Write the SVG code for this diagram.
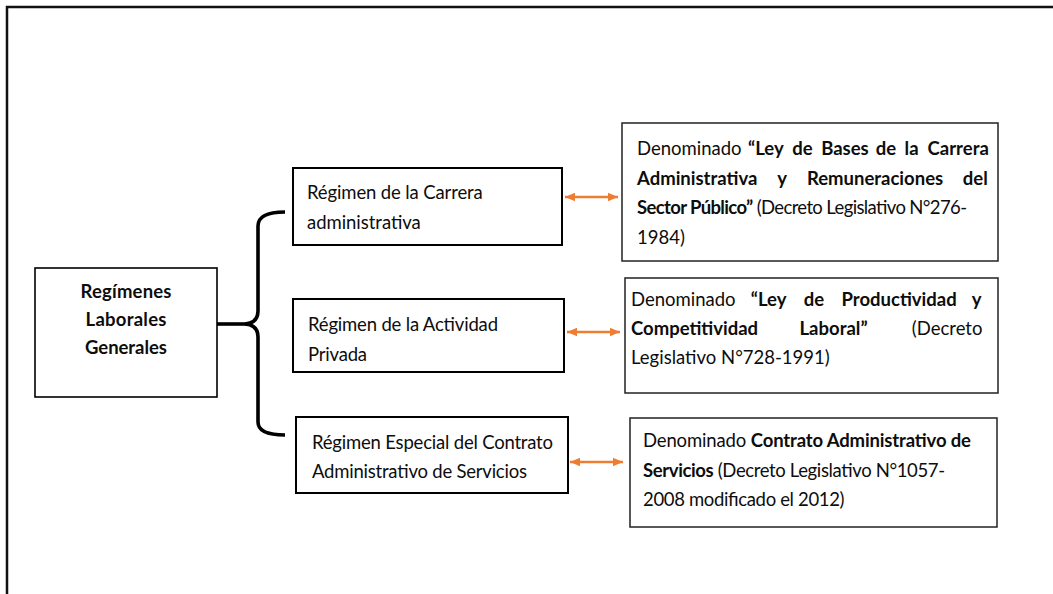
<svg xmlns="http://www.w3.org/2000/svg" width="1053" height="594" viewBox="0 0 1053 594">
<style>
.t{font-family:Lato,"Liberation Sans",sans-serif;font-size:18.5px;fill:#0d0d0d}
.b{font-weight:bold}
.lbox{fill:#fff;stroke:#000;stroke-width:2}
.rbox{fill:#fff;stroke:#222;stroke-width:1.5}
.arr{stroke:#ED7D31;stroke-width:2.4;fill:none;marker-start:url(#ah);marker-end:url(#ah)}
.brace{fill:none;stroke:#000;stroke-width:3.6;stroke-linecap:butt}
</style>
<defs>
<marker id="ah" markerUnits="userSpaceOnUse" markerWidth="11" markerHeight="10" refX="10" refY="5" orient="auto-start-reverse">
<path d="M0,0.8 L10,5 L0,9.2 z" fill="#ED7D31"/>
</marker>
</defs>
<rect width="1053" height="594" fill="#fff"/>
<path d="M7,594 V7 H1053" fill="none" stroke="#111" stroke-width="2.5"/>

<g id="connectors">
<path class="brace" d="M217,324 H247"/>
<path class="brace" d="M285,212 Q258,212 258,226 V311 Q258,323 245,324 Q258,325 258,337 V422 Q258,435 285,435"/>
<line class="arr" x1="565" y1="197" x2="618" y2="197"/>
<line class="arr" x1="567" y1="332" x2="620" y2="332"/>
<line class="arr" x1="570" y1="462" x2="623" y2="462"/>
</g>

<g id="n-main">
<rect class="lbox" x="35" y="268" width="182" height="129" style="stroke-width:1.6"/>
<text class="t b" x="126" y="298" text-anchor="middle" textLength="91">Regímenes</text>
<text class="t b" x="126" y="326" text-anchor="middle" textLength="81">Laborales</text>
<text class="t b" x="126" y="354" text-anchor="middle" textLength="82">Generales</text>
</g>

<g id="n-carrera">
<rect class="lbox" x="293" y="168" width="269" height="77"/>
<text class="t" x="307" y="199" textLength="175.7">Régimen de la Carrera</text>
<text class="t" x="307" y="229" textLength="113.8">administrativa</text>
</g>

<g id="n-privada">
<rect class="lbox" x="293" y="299" width="271" height="73"/>
<text class="t" x="308" y="331" textLength="190">Régimen de la Actividad</text>
<text class="t" x="308" y="361" textLength="59">Privada</text>
</g>

<g id="n-cas">
<rect class="lbox" x="296" y="417" width="272" height="76"/>
<text class="t" x="312" y="449" textLength="241">Régimen Especial del Contrato</text>
<text class="t" x="312" y="478" textLength="215">Administrativo de Servicios</text>
</g>

<g id="n-ley276">
<rect class="rbox" x="622" y="123" width="376" height="138"/>
<text class="t" y="155"><tspan x="637">Denominado</tspan><tspan class="b" x="748">“Ley</tspan><tspan class="b" x="792.3">de</tspan><tspan class="b" x="821.2">Bases</tspan><tspan class="b" x="875.7">de</tspan><tspan class="b" x="904.6">la</tspan><tspan class="b" x="927.6">Carrera</tspan></text>
<text class="t b" y="184.5"><tspan x="637">Administrativa</tspan><tspan x="777.2">y</tspan><tspan x="806.9">Remuneraciones</tspan><tspan x="962.8">del</tspan></text>
<text class="t" x="637" y="214" textLength="330"><tspan class="b">Sector Público”</tspan> (Decreto Legislativo N°276-</text>
<text class="t" x="637" y="243.5">1984)</text>
</g>

<g id="n-ley728">
<rect class="rbox" x="625" y="278" width="373" height="115"/>
<text class="t" y="306"><tspan x="631">Denominado</tspan><tspan class="b" x="750.8">“Ley</tspan><tspan class="b" x="803.8">de</tspan><tspan class="b" x="841.5">Productividad</tspan><tspan class="b" x="971.8">y</tspan></text>
<text class="t" y="335"><tspan class="b" x="631">Competitividad</tspan><tspan class="b" x="799.5">Laboral”</tspan><tspan x="911.8">(Decreto</tspan></text>
<text class="t" x="631" y="364">Legislativo N°728-1991)</text>
</g>

<g id="n-ley1057">
<rect class="rbox" x="630" y="418" width="367" height="109"/>
<text class="t" x="643" y="447" textLength="328">Denominado <tspan class="b">Contrato Administrativo de</tspan></text>
<text class="t" x="643" y="477" textLength="302"><tspan class="b">Servicios</tspan> (Decreto Legislativo N°1057-</text>
<text class="t" x="643" y="506" textLength="201.5">2008 modificado el 2012)</text>
</g>
</svg>
